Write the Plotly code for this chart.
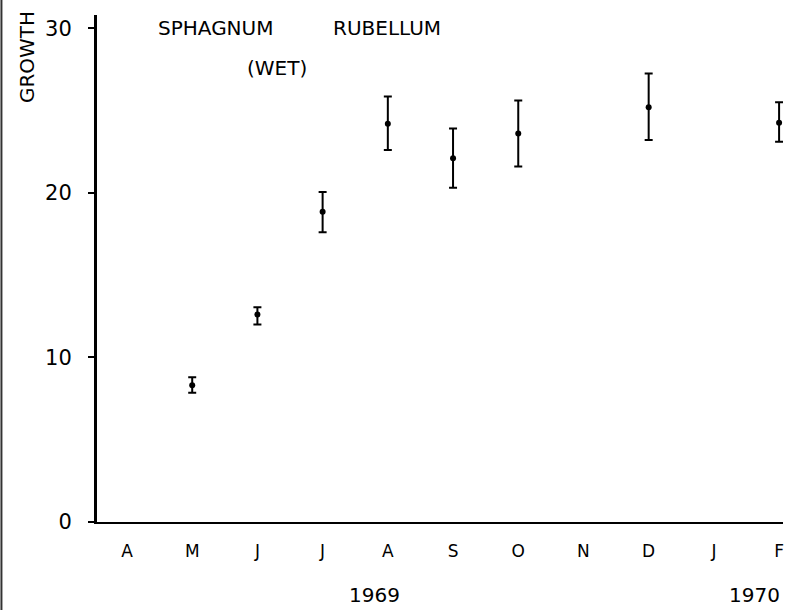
import plotly.graph_objects as go

month_labels = ["A", "M", "J", "J", "A", "S", "O", "N", "D", "J", "F"]
obs_month_index = [1, 2, 3, 4, 5, 6, 8, 10]
growth_mean = [8.3, 12.6, 18.85, 24.2, 22.1, 23.6, 25.2, 24.25]
growth_upper = [8.8, 13.05, 20.05, 25.85, 23.9, 25.6, 27.25, 25.5]
growth_lower = [7.85, 12.0, 17.6, 22.6, 20.3, 21.6, 23.2, 23.1]
y_ticks = [0, 10, 20, 30]
year_labels = ["1969", "1970"]

err_plus = [u - m for u, m in zip(growth_upper, growth_mean)]
err_minus = [m - l for m, l in zip(growth_mean, growth_lower)]

FONT = "DejaVu Sans"

fig = go.Figure()
fig.add_trace(go.Scatter(
    x=obs_month_index, y=growth_mean, mode="markers",
    marker=dict(color="black", size=6),
    error_y=dict(type="data", symmetric=False, array=err_plus, arrayminus=err_minus,
                 color="black", thickness=2, width=4),
    showlegend=False,
))


def label(text, x, y, size, **kw):
    return dict(text=text, x=x, y=y, xref="paper", yref="paper", showarrow=False,
                xanchor="center", yanchor="middle", font=dict(size=size), **kw)


fig.update_layout(
    width=787, height=610,
    margin=dict(l=97, r=4, t=15, b=88),
    paper_bgcolor="white", plot_bgcolor="white",
    font=dict(family=FONT, color="black", size=17),
    xaxis=dict(range=[-0.46, 10.06], tickmode="array", tickvals=list(range(len(month_labels))),
               ticktext=month_labels, showgrid=False, zeroline=False, showline=True,
               linecolor="black", linewidth=2, ticks="", ticklabelstandoff=13,
               tickfont=dict(size=17)),
    yaxis=dict(range=[0, 30.8], tickmode="array", tickvals=y_ticks, showgrid=False,
               zeroline=False, showline=True, linecolor="black", linewidth=3,
               ticks="outside", ticklen=6, tickwidth=1.5, tickcolor="black",
               ticklabelstandoff=12, tickfont=dict(size=21)),
    annotations=[
        label("SPHAGNUM", 0.173, 0.974, 20),
        label("RUBELLUM", 0.423, 0.974, 20),
        label("(WET)", 0.262, 0.896, 20),
        label("GROWTH", -0.102, 0.917, 20, textangle=-90),
        dict(text=year_labels[0], x=0.404, y=0, yshift=-73, xref="paper", yref="paper",
             xanchor="center", yanchor="middle", showarrow=False, font=dict(size=20)),
        dict(text=year_labels[1], x=0.959, y=0, yshift=-73, xref="paper", yref="paper",
             xanchor="center", yanchor="middle", showarrow=False, font=dict(size=20)),
    ],
    shapes=[dict(type="line", xref="paper", yref="paper", x0=-0.1393, x1=-0.1393,
                 y0=-0.174, y1=1.03, line=dict(color="#333", width=2))],
)

fig.write_html("out.html", config={"displayModeBar": False},
               post_script="document.body.style.margin='0';")
